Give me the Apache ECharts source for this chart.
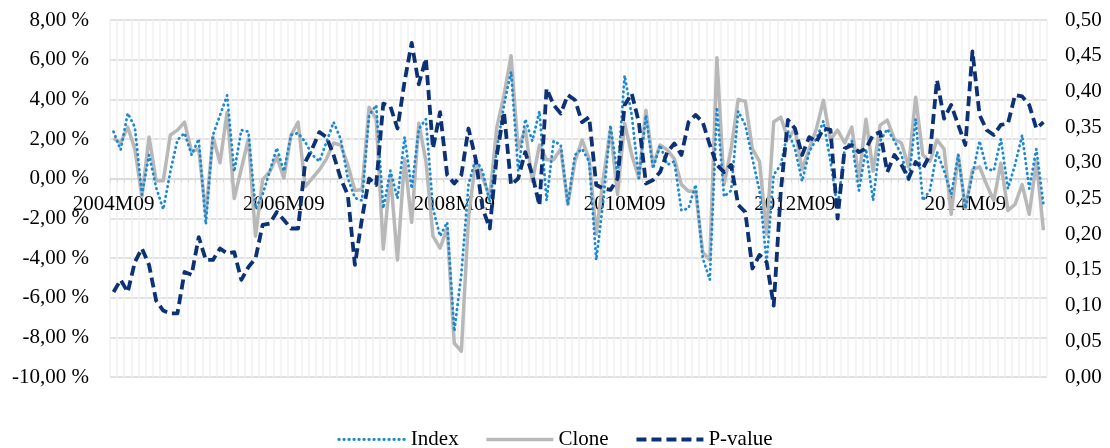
<!DOCTYPE html>
<html>
<head>
<meta charset="utf-8">
<script src="https://cdn.jsdelivr.net/npm/echarts@6/dist/echarts.min.js"></script>
<style>
  html, body { margin: 0; padding: 0; background: #ffffff; }
  #chart { width: 1110px; height: 448px; }
</style>
</head>
<body>
<div id="chart"></div>
<script>
// Monthly categories, 2004M09 .. 2015M08
const startYear = 2004, startMonth = 9, monthCount = 132;
const months = [];
for (let k = 0; k < monthCount; k++) {
  const m = (startMonth - 1 + k) % 12 + 1;
  const y = startYear + Math.floor((startMonth - 1 + k) / 12);
  months.push(y + 'M' + (m < 10 ? '0' + m : m));
}

// Monthly returns of the index, in percent
const indexReturns = [
  2.37, 1.45, 3.3, 2.6, -0.8, 1.2, -0.45, -1.55, 0.35, 1.95, 2.3, 1.2,
  2.0, -2.3, 2.2, 3.2, 4.2, 0.35, 2.45, 2.37, -1.5, -0.8, 0.37, 1.55,
  0.37, 2.2, 2.3, 1.85, 1.2, 0.87, 1.85, 2.85, 2.0, 0.03, -0.97, -1.1,
  3.2, 3.7, -1.5, 0.4, -1.0, 2.1, -0.5, 2.5, 3.0, -1.5, -2.9, -2.2,
  -7.7, -4.8, -0.3, 1.0, 0.37, -1.2, 1.5, 3.7, 5.4, 0.4, 3.0, 1.9,
  3.4, -1.1, 1.9, 1.7, -1.3, 1.2, 1.5, 0.87, -4.1, -1.1, 2.7, 0.2,
  5.2, 3.2, 0.03, 3.2, 0.5, 1.7, 0.7, 0.87, -1.6, -1.5, -0.3, -4.0,
  -5.1, 3.6, -0.9, -0.6, 3.4, 2.7, 1.0, -0.6, -4.2, 0.2, 0.7, 2.4,
  1.5, -0.13, 1.35, 2.0, 2.9, 0.87, -1.5, 1.5, 1.9, -0.6, 1.5, -1.1,
  1.9, 2.5, 1.9, 1.2, -0.1, 3.0, -1.1, -0.6, 1.35, 0.4, -0.8, 1.2,
  -1.5, 0.2, 1.9, 0.5, 0.4, 2.0, -0.5, 0.7, 2.2, -0.5, 1.5, -1.3
];

// Monthly returns of the clone portfolio, in percent
const cloneReturns = [
  2.03, 1.8, 2.6, 1.5, -0.9, 2.1, -0.1, -0.1, 2.2, 2.45, 2.85, 1.35,
  1.5, -1.8, 2.1, 0.8, 3.35, -1.0, 0.5, 2.0, -2.9, -0.05, 0.35, 1.1,
  0.03, 2.2, 2.85, -0.4, 0.03, 0.45, 1.0, 1.8, 1.7, 0.7, -0.6, -0.55,
  3.6, 3.0, -3.55, 0.2, -4.1, 1.0, -2.2, 2.8, 0.9, -2.9, -3.5, -2.5,
  -8.3, -8.7, -2.0, 0.9, 0.03, -0.9, 2.6, 4.2, 6.2, 1.5, 2.5, -0.13,
  1.7, 0.95, 0.95, 1.5, -1.3, 0.87, 1.95, 1.0, -2.8, 0.03, 2.5, -0.8,
  2.8, 1.2, 0.03, 3.45, 0.7, 1.7, 1.45, 1.0, -0.3, -0.63, -0.63, -3.7,
  -4.1, 6.1, -0.3, 1.5, 4.0, 3.9, 1.5, 0.87, -2.8, 2.87, 3.1, 2.0,
  2.5, 0.45, 1.5, 2.5, 3.95, 1.95, 2.45, 1.8, 2.6, 0.03, 3.0, 0.37,
  2.7, 2.95, 2.0, 1.8, 0.6, 4.1, 1.2, 0.87, 1.95, 1.5, -1.8, 1.2,
  -1.5, 0.45, 0.6, -0.3, -1.1, 0.78, -1.6, -1.3, -0.3, -1.8, 0.87, -2.6
];

// P-values (right axis)
const pValues = [
  0.119, 0.136, 0.119, 0.161, 0.18, 0.157, 0.107, 0.093, 0.089, 0.089, 0.147, 0.143,
  0.196, 0.164, 0.164, 0.18, 0.173, 0.175, 0.136, 0.154, 0.166, 0.213, 0.215, 0.231,
  0.22, 0.208, 0.208, 0.301, 0.32, 0.343, 0.336, 0.311, 0.278, 0.255, 0.157, 0.222,
  0.278, 0.269, 0.383, 0.379, 0.348, 0.414, 0.468, 0.41, 0.446, 0.32, 0.371, 0.283,
  0.271, 0.283, 0.348, 0.306, 0.236, 0.208, 0.311, 0.371, 0.269, 0.278, 0.315, 0.283,
  0.24, 0.404, 0.381, 0.369, 0.395, 0.388, 0.357, 0.364, 0.269, 0.264, 0.262, 0.278,
  0.381, 0.397, 0.357, 0.271, 0.276, 0.287, 0.315, 0.327, 0.311, 0.357, 0.367, 0.357,
  0.325, 0.297, 0.287, 0.297, 0.241, 0.231, 0.152, 0.171, 0.161, 0.1, 0.26, 0.36,
  0.348, 0.311, 0.336, 0.329, 0.348, 0.346, 0.222, 0.32, 0.325, 0.315, 0.32, 0.339,
  0.343, 0.287, 0.311, 0.297, 0.278, 0.301, 0.292, 0.311, 0.416, 0.362, 0.381, 0.353,
  0.325, 0.456, 0.367, 0.346, 0.339, 0.353, 0.355, 0.395, 0.393, 0.381, 0.348, 0.357
];

// Axis settings
const leftTicks = { min: -10, max: 8, interval: 2 };
const rightTicks = { min: 0, max: 0.5, interval: 0.05 };
const seriesNames = ['Index', 'Clone', 'P-value'];

const FONT = '"Liberation Serif", "Times New Roman", serif';
const comma = (v, d) => v.toFixed(d).replace('.', ',');

// Line looks shared by the series and their legend keys
const looks = {
  Index: { color: '#1a88d2', width: 2.8, type: [0.5, 4.5], cap: 'round', join: 'round' },
  Clone: { color: '#b8b8b8', width: 3.5, type: 'solid', join: 'round' },
  'P-value': { color: '#0c3275', width: 3.8, type: [10, 5], join: 'round' }
};

// Plot box
const GRID = { left: 110, right: 63, top: 20, bottom: 71 };
const plotHeight = 448 - GRID.top - GRID.bottom;
// Lift the category axis from the bottom edge up to the 0 % line
const zeroShift = -plotHeight * (0 - leftTicks.min) / (leftTicks.max - leftTicks.min);

const chart = echarts.init(document.getElementById('chart'), null, { renderer: 'canvas' });

chart.setOption({
  animation: false,
  backgroundColor: '#ffffff',
  textStyle: { fontFamily: FONT },
  grid: Object.assign({ containLabel: false }, GRID),
  legend: {
    bottom: -7,
    left: 'center',
    itemWidth: 67,
    itemHeight: 14,
    itemGap: 26,
    itemStyle: { opacity: 0 },
    textStyle: { fontFamily: FONT, fontSize: 21, color: '#000' },
    data: seriesNames.map(n => ({ name: n, lineStyle: Object.assign({}, looks[n]) }))
  },
  xAxis: {
    type: 'category',
    data: months,
    boundaryGap: true,
    position: 'bottom',
    offset: zeroShift,
    axisLine: { show: true, onZero: false, lineStyle: { color: '#d9d9d9', width: 1.5 } },
    axisTick: { show: true, interval: 0, length: 4, lineStyle: { color: '#d9d9d9' } },
    axisLabel: {
      interval: 23,
      margin: 15,
      fontFamily: FONT,
      fontSize: 21,
      color: '#000'
    },
    splitLine: { show: true, interval: 0, lineStyle: { color: '#f0f0f0', width: 1.5 } }
  },
  yAxis: [
    {
      type: 'value',
      min: leftTicks.min,
      max: leftTicks.max,
      interval: leftTicks.interval,
      axisLine: { show: false },
      axisTick: { show: false },
      axisLabel: {
        margin: 21,
        fontFamily: FONT,
        fontSize: 21,
        color: '#000',
        formatter: v => comma(v, 2) + ' %'
      },
      splitLine: { show: true, lineStyle: { color: '#d9d9d9', width: 1.5 } }
    },
    {
      type: 'value',
      position: 'right',
      min: rightTicks.min,
      max: rightTicks.max,
      interval: rightTicks.interval,
      axisLine: { show: false },
      axisTick: { show: false },
      axisLabel: {
        margin: 18,
        fontFamily: FONT,
        fontSize: 21,
        color: '#000',
        formatter: v => comma(v, 2)
      },
      splitLine: { show: false }
    }
  ],
  series: [
    {
      name: 'Clone',
      type: 'line',
      yAxisIndex: 0,
      data: cloneReturns,
      symbol: 'none',
      z: 2,
      itemStyle: { color: looks.Clone.color },
      lineStyle: looks.Clone
    },
    {
      name: 'Index',
      type: 'line',
      yAxisIndex: 0,
      data: indexReturns,
      symbol: 'none',
      z: 3,
      itemStyle: { color: looks.Index.color },
      lineStyle: looks.Index
    },
    {
      name: 'P-value',
      type: 'line',
      yAxisIndex: 1,
      data: pValues,
      symbol: 'none',
      z: 4,
      itemStyle: { color: looks['P-value'].color },
      lineStyle: looks['P-value']
    }
  ]
});
</script>
</body>
</html>
